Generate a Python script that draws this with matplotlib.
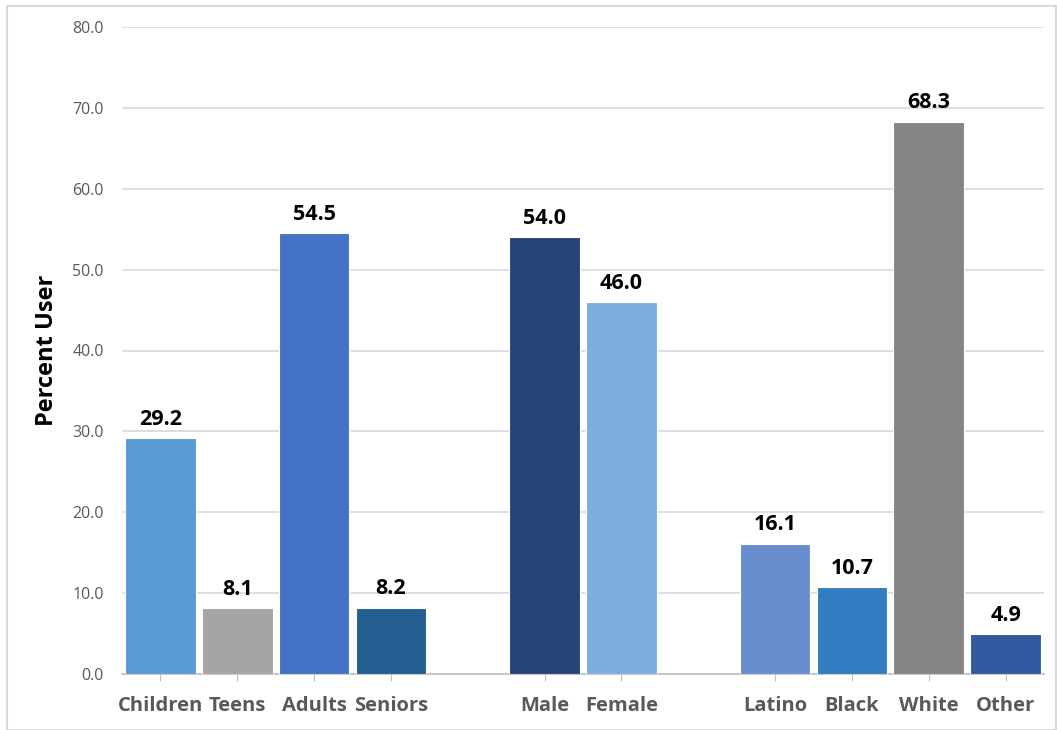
import matplotlib
matplotlib.use("Agg")
import matplotlib.pyplot as plt
from matplotlib.patches import Rectangle

categories = ["Children", "Teens", "Adults", "Seniors", "Male", "Female",
              "Latino", "Black", "White", "Other"]
values = [29.2, 8.1, 54.5, 8.2, 54.0, 46.0, 16.1, 10.7, 68.3, 4.9]
positions = [0, 1, 2, 3, 5, 6, 8, 9, 10, 11]
colors = ["#5B9BD5", "#A5A5A5", "#4472C4", "#255E91", "#264478", "#7CAFDD",
          "#698ED0", "#327DC2", "#858585", "#335AA1"]
yticks = [0, 10, 20, 30, 40, 50, 60, 70, 80]

plt.rcParams['font.family'] = ['Open Sans', 'DejaVu Sans']

fig = plt.figure(figsize=(10.57, 7.30), dpi=100)
ax = fig.add_axes([122/1057, 1 - 674/730, (1044-122)/1057, (674-27)/730])

ax.bar(positions, values, width=0.92, color=colors, edgecolor="white", linewidth=0.8, zorder=3)
for p, v in zip(positions, values):
    ax.annotate(f"{v:.1f}", (p, v), xytext=(0, 6), textcoords="offset points",
                ha="center", va="bottom", fontsize=15.5, fontweight="bold", color="black")

ax.set_xlim(-0.5, 11.5)
ax.set_ylim(0, 80)
ax.set_yticks(yticks)
ax.set_yticklabels([f"{t:.1f}" for t in yticks], fontsize=11.5, color="#595959")
ax.set_xticks(positions)
ax.set_xticklabels(categories, fontsize=14.5, fontweight="bold", color="#595959")
ax.grid(axis="y", color="#D9D9D9", linewidth=1.2, zorder=0)
ax.tick_params(axis="y", length=0, pad=13)
ax.tick_params(axis="x", length=5, color="#BFBFBF", pad=11)
for s in ["top", "right", "left"]:
    ax.spines[s].set_visible(False)
ax.spines["bottom"].set_color("#BFBFBF")
ax.spines["bottom"].set_linewidth(1.2)
ax.set_ylabel("Percent User", fontsize=17, fontweight="bold", color="black", labelpad=10)

fig.patches.append(Rectangle((7/1057, 0), 1 - 8/1057, 1 - 6/730, transform=fig.transFigure,
                             fill=False, edgecolor="#D9D9D9", linewidth=1.5))

fig.savefig("out.png", dpi=100)
